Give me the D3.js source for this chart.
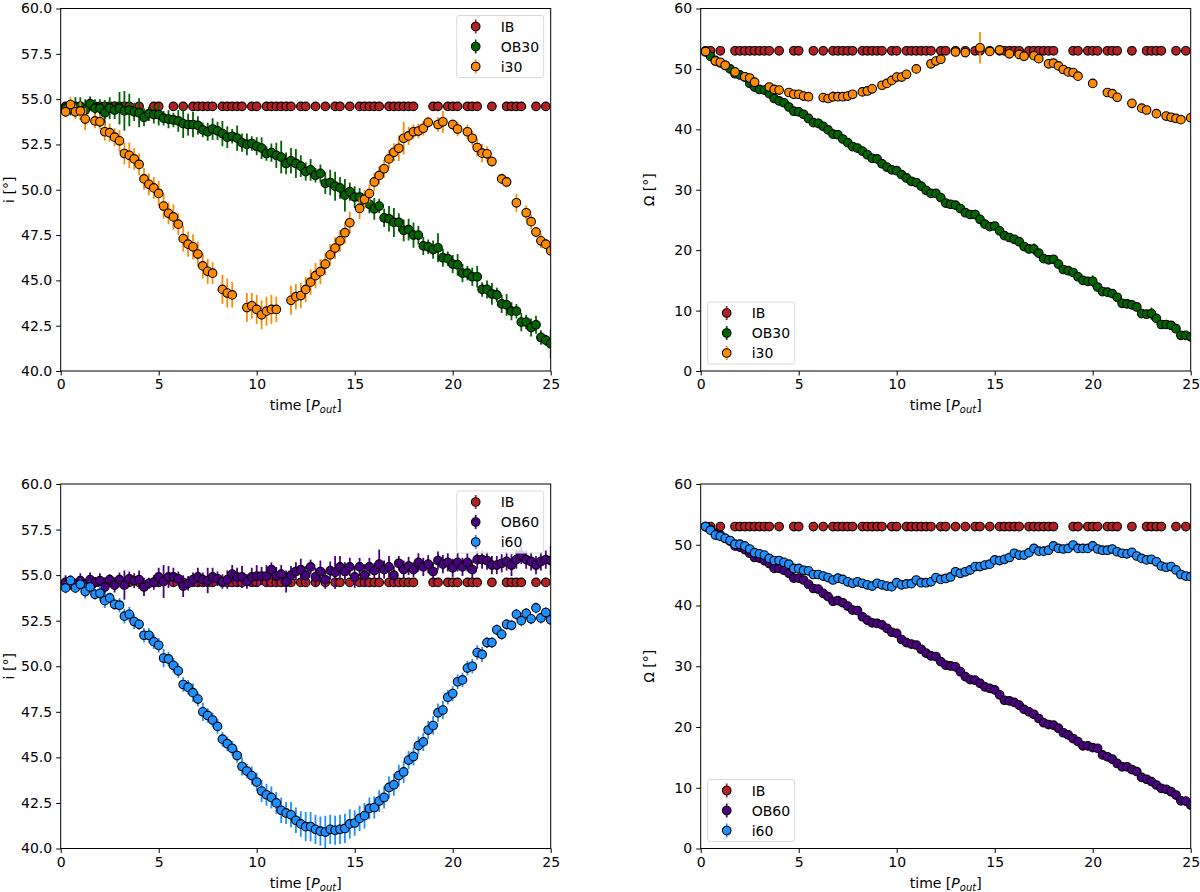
<!DOCTYPE html>
<html lang="en">
<head>
<meta charset="UTF-8">
<title>i and Omega vs time</title>
<script src="https://cdn.jsdelivr.net/npm/d3@7/dist/d3.min.js"></script>
<style>
  body { margin: 0; background: #fff; }
  svg { display: block; font-family: "DejaVu Sans", sans-serif; }
</style>
</head>
<body>
<svg id="chart" width="1200" height="892"></svg>
<script>
// ---- data ----
var ibTime = [0.25,0.5,1,1.75,2,2.25,2.5,2.75,3,3.25,3.5,4,4.75,5,5.75,6.25,6.75,7,7.25,7.5,7.75,8.25,8.5,8.75,9,9.25,9.75,10,10.5,10.75,11,11.25,11.5,11.75,12.25,12.5,13,13.5,14,14.25,14.75,15.25,15.5,15.75,16,16.25,16.75,17,17.25,17.5,17.75,18,19,19.25,19.75,20,20.25,20.75,21,21.25,22,22.75,23,23.25,23.5,24.25,24.75];
var ibIncl = [54.6,54.6,54.6,54.6,54.6,54.6,54.6,54.6,54.6,54.6,54.6,54.6,54.6,54.6,54.6,54.6,54.6,54.6,54.6,54.6,54.6,54.6,54.6,54.6,54.6,54.6,54.6,54.6,54.6,54.6,54.6,54.6,54.6,54.6,54.6,54.6,54.6,54.6,54.6,54.6,54.6,54.6,54.6,54.6,54.6,54.6,54.6,54.6,54.6,54.6,54.6,54.6,54.6,54.6,54.6,54.6,54.6,54.6,54.6,54.6,54.6,54.6,54.6,54.6,54.6,54.6,54.6];
var ibNode = [53.0,53.0,53.0,53.0,53.0,53.0,53.0,53.0,53.0,53.0,53.0,53.0,53.0,53.0,53.0,53.0,53.0,53.0,53.0,53.0,53.0,53.0,53.0,53.0,53.0,53.0,53.0,53.0,53.0,53.0,53.0,53.0,53.0,53.0,53.0,53.0,53.0,53.0,53.0,53.0,53.0,53.0,53.0,53.0,53.0,53.0,53.0,53.0,53.0,53.0,53.0,53.0,53.0,53.0,53.0,53.0,53.0,53.0,53.0,53.0,53.0,53.0,53.0,53.0,53.0,53.0,53.0];

// [time, value, error]
var ob30Incl = [[0.25,54.5,0.3],[0.5,54.5,0.4],[0.75,54.6,0.5],[1,54.6,0.5],[1.25,54.4,0.6],[1.5,54.75,0.4],[1.75,54.5,0.5],[2,54.5,0.5],[2.25,54.25,0.7],[2.5,54.5,0.6],[2.75,54.4,0.5],[3,54.5,0.9],[3.25,54.35,1.1],[3.5,54.4,0.9],[3.75,54.3,0.5],[4,54.25,0.8],[4.25,54.0,0.5],[4.5,54.2,0.4],[4.75,54.15,0.5],[5,54.15,0.6],[5.25,53.95,0.4],[5.5,53.9,0.5],[5.75,53.85,0.4],[6,53.8,0.6],[6.25,53.65,0.8],[6.5,53.6,0.6],[6.75,53.6,0.7],[7,53.55,0.5],[7.25,53.3,0.4],[7.5,53.2,0.5],[7.75,53.35,0.6],[8,53.25,0.5],[8.25,53.1,0.7],[8.5,52.9,0.6],[8.75,52.95,0.4],[9,52.85,0.7],[9.25,52.6,0.5],[9.5,52.5,0.6],[9.75,52.55,0.4],[10,52.4,0.5],[10.25,52.3,0.6],[10.5,52.0,0.4],[10.75,52.05,0.5],[11,51.9,0.7],[11.25,51.8,0.9],[11.5,51.45,0.6],[11.75,51.6,0.7],[12,51.45,0.8],[12.25,51.3,0.6],[12.5,51.0,0.5],[12.75,51.1,0.6],[13,50.8,0.4],[13.25,50.9,0.5],[13.5,50.36,0.6],[13.75,50.4,0.7],[14,50.2,0.8],[14.25,50.1,0.6],[14.5,49.7,0.9],[14.75,49.9,0.5],[15,49.6,0.6],[15.25,49.6,0.5],[15.5,49.4,0.4],[15.75,49.2,0.5],[16,48.95,0.6],[16.25,49.1,0.4],[16.5,48.45,0.5],[16.75,48.4,0.7],[17,48.2,0.8],[17.25,48.2,0.5],[17.5,47.76,0.6],[17.75,47.8,0.6],[18,47.5,0.7],[18.25,47.5,0.5],[18.5,46.9,0.5],[18.75,46.85,0.4],[19,46.7,0.5],[19.25,46.8,0.8],[19.5,46.25,0.5],[19.75,46.2,0.4],[20,45.9,0.5],[20.25,45.86,0.6],[20.5,45.4,0.5],[20.75,45.4,0.4],[21,45.2,0.5],[21.25,45.2,0.6],[21.5,44.5,0.4],[21.75,44.5,0.5],[22,44.25,0.6],[22.25,44.2,0.4],[22.5,43.7,0.5],[22.75,43.65,0.6],[23,43.3,0.5],[23.25,43.3,0.4],[23.5,42.7,0.5],[23.75,42.7,0.4],[24,42.4,0.5],[24.25,42.55,0.5],[24.5,41.85,0.4],[24.75,41.7,0.3],[25,41.5,0.8]];

var i30Incl = [[0.25,54.3,0.3],[0.5,54.7,0.4],[0.75,54.3,0.4],[1,54.35,0.5],[1.25,53.9,0.6],[1.75,53.8,0.4],[2,53.75,0.4],[2.25,53.2,0.5],[2.5,53.15,0.5],[2.75,52.9,0.5],[3,52.7,0.6],[3.25,52.0,0.6],[3.5,51.9,0.7],[3.75,51.7,0.6],[4,51.4,0.6],[4.25,50.6,0.6],[4.5,50.3,0.6],[4.75,50.1,0.6],[5,49.8,0.7],[5.25,49.1,0.7],[5.5,48.7,0.6],[5.75,48.5,0.7],[6,48.1,0.6],[6.25,47.3,0.7],[6.5,47.0,0.7],[6.75,46.85,0.7],[7,46.45,0.7],[7.25,45.8,0.7],[7.5,45.5,0.7],[7.75,45.4,0.6],[8.25,44.5,0.8],[8.5,44.3,0.8],[8.75,44.2,0.7],[9.5,43.5,0.8],[9.75,43.6,0.7],[10,43.4,0.8],[10.25,43.1,0.8],[10.5,43.3,0.8],[10.75,43.4,0.8],[11,43.4,0.7],[11.75,43.9,0.8],[12,44.1,0.7],[12.25,44.16,0.7],[12.5,44.5,0.7],[12.75,44.9,0.7],[13,45.26,0.7],[13.25,45.48,0.7],[13.5,45.9,0.6],[13.75,46.41,0.6],[14,46.78,0.6],[14.25,47.18,0.6],[14.5,47.63,0.6],[14.75,48.18,0.6],[15.25,48.97,0.6],[15.5,49.48,0.5],[15.75,49.79,0.5],[16,50.43,0.5],[16.25,50.79,0.5],[16.5,51.16,0.5],[16.75,51.7,0.5],[17,52.07,0.5],[17.25,52.29,0.7],[17.5,52.84,0.9],[17.75,52.97,0.5],[18,53.2,0.4],[18.25,53.24,0.4],[18.5,53.39,0.4],[18.75,53.72,0.3],[19.25,53.6,0.4],[19.5,53.75,0.6],[20,53.6,0.3],[20.25,53.35,0.4],[20.75,53.2,0.4],[21,52.84,0.4],[21.25,52.33,0.5],[21.5,52.02,0.5],[21.75,51.98,0.4],[22,51.56,0.3],[22.5,50.6,0.3],[22.75,50.43,0.3],[23.25,49.28,0.5],[23.75,48.73,0.4],[24,48.24,0.4],[24.25,47.67,0.3],[24.5,47.18,0.4],[24.75,47.0,0.3],[25,46.63,0.3]];

var ob30Node = [[0.25,52.8,0.3],[0.5,52.1,0.2],[0.75,51.4,0.2],[1,51.0,0.2],[1.25,50.6,0.2],[1.5,50.0,0.2],[1.75,49.2,0.2],[2,49.0,0.2],[2.25,48.65,0.3],[2.5,47.6,0.2],[2.75,47.0,0.2],[3,46.6,0.2],[3.25,46.5,0.2],[3.5,45.9,0.2],[3.75,45.1,0.3],[4,44.7,0.6],[4.25,44.4,0.2],[4.5,43.7,0.2],[4.75,43.0,0.2],[5,42.9,0.2],[5.25,42.5,0.2],[5.5,41.8,0.2],[5.75,41.1,0.3],[6,41.0,0.8],[6.25,40.5,0.2],[6.5,39.9,0.2],[6.75,39.2,0.3],[7,39.1,0.2],[7.25,38.4,0.2],[7.5,37.8,0.2],[7.75,37.15,0.2],[8,36.9,0.2],[8.25,36.4,0.2],[8.5,35.8,0.2],[8.75,35.2,0.2],[9,35.1,0.8],[9.25,34.3,0.2],[9.5,33.75,0.2],[9.75,33.3,0.2],[10,33.15,0.2],[10.25,32.5,0.2],[10.5,31.95,0.2],[10.75,31.4,0.2],[11,31.2,0.4],[11.25,30.6,0.2],[11.5,29.9,0.2],[11.75,29.4,0.2],[12,29.4,0.6],[12.25,28.7,0.2],[12.5,27.8,0.2],[12.75,27.6,0.2],[13,27.45,0.2],[13.25,26.9,0.2],[13.5,26.2,0.2],[13.75,25.9,0.2],[14,25.9,0.8],[14.25,25.1,0.2],[14.5,24.3,0.2],[14.75,23.9,0.2],[15,24.0,0.5],[15.25,23.2,0.2],[15.5,22.4,0.2],[15.75,22.1,0.2],[16,21.8,0.2],[16.25,21.4,0.2],[16.5,20.6,0.2],[16.75,20.2,0.2],[17,20.2,0.9],[17.25,19.5,0.2],[17.5,18.6,0.2],[17.75,18.4,0.2],[18,18.5,0.3],[18.25,17.7,0.2],[18.5,16.8,0.2],[18.75,16.6,0.2],[19,16.3,0.2],[19.25,15.6,0.2],[19.5,15.0,0.2],[19.75,14.85,0.2],[20,14.85,1.0],[20.25,13.9,0.2],[20.5,13.15,0.2],[20.75,13.05,0.2],[21,12.8,0.2],[21.25,12.2,0.2],[21.5,11.2,0.2],[21.75,11.1,0.2],[22,10.95,0.2],[22.25,10.6,0.2],[22.5,9.5,0.2],[22.75,9.4,0.2],[23,9.5,1.0],[23.25,8.7,0.2],[23.5,7.7,0.2],[23.75,7.7,0.2],[24,7.55,0.3],[24.25,7.0,0.2],[24.5,5.9,0.2],[24.75,5.9,0.4],[25,5.65,0.8]];

var i30Node = [[0.25,52.9,0.2],[0.75,51.3,0.3],[1,51.1,0.2],[1.25,50.6,0.2],[1.75,49.5,0.3],[2.25,48.7,0.2],[2.5,48.5,0.3],[2.75,47.8,0.3],[3.5,47.0,0.4],[3.75,46.6,0.4],[4,46.5,0.5],[4.5,46.1,0.5],[4.75,45.8,0.5],[5,45.8,0.6],[5.25,45.5,0.4],[5.5,45.4,0.4],[6.25,45.25,0.4],[6.5,45.1,0.6],[6.75,45.4,0.9],[7,45.4,0.7],[7.25,45.4,0.6],[7.5,45.5,0.8],[7.75,45.8,0.5],[8.25,46.2,0.4],[8.5,46.35,0.6],[8.75,46.7,0.7],[9.25,47.3,0.4],[9.5,47.6,0.6],[9.75,48.1,0.8],[10,48.65,0.9],[10.25,48.65,0.5],[10.5,49.1,0.5],[11,50.0,0.8],[11.75,50.85,0.7],[12,51.3,0.6],[12.25,51.6,0.3],[13,52.8,0.8],[13.5,52.7,0.3],[14.25,53.5,2.6],[14.75,52.9,0.5],[15.25,53.15,0.5],[15.75,52.5,0.3],[16.25,52.4,0.3],[16.5,52.1,0.3],[17,52.2,0.5],[17.25,51.7,0.3],[17.75,50.85,0.3],[18,50.95,0.3],[18.25,50.5,0.2],[18.5,49.9,0.2],[18.75,49.5,0.2],[19,49.4,0.3],[19.25,48.8,0.2],[20,47.6,0.2],[20.75,46.1,0.2],[21,45.9,0.2],[21.25,45.3,0.2],[22,44.3,0.2],[22.5,43.5,0.2],[22.75,43.2,0.2],[23.25,42.6,0.2],[23.75,42.2,0.4],[24,42.0,0.6],[24.25,41.8,0.4],[24.5,41.6,0.3],[25,41.9,0.3]];

var ob60Incl = [[0.25,54.6,0.4],[0.5,54.6,0.4],[0.75,54.5,0.3],[1,54.7,0.4],[1.25,54.5,0.3],[1.5,54.75,0.4],[1.75,54.6,0.3],[2,54.7,0.4],[2.25,54.35,0.5],[2.5,54.75,0.3],[2.75,54.45,0.4],[3,54.75,0.4],[3.25,54.45,0.8],[3.5,54.8,0.4],[3.75,54.7,0.4],[4,54.75,0.5],[4.25,54.35,0.5],[4.5,54.55,0.3],[4.75,54.6,0.4],[5,54.9,0.5],[5.25,54.65,0.9],[5.5,54.9,0.6],[5.75,54.9,0.5],[6,54.8,0.4],[6.25,54.4,0.6],[6.5,54.55,0.4],[6.75,54.75,0.4],[7,54.9,0.5],[7.25,54.75,0.4],[7.5,54.7,0.7],[7.75,54.9,0.5],[8,54.8,0.4],[8.25,54.65,0.4],[8.5,54.75,0.5],[8.75,55.05,0.5],[9,54.9,0.5],[9.25,54.9,0.6],[9.5,54.65,0.4],[9.75,54.9,0.5],[10,54.95,0.6],[10.25,54.95,0.5],[10.5,54.95,0.6],[10.75,55.3,0.4],[11,54.95,0.5],[11.25,55.05,0.5],[11.5,54.65,0.6],[11.75,55.0,0.5],[12,55.2,0.5],[12.25,55.3,0.6],[12.5,55.0,0.5],[12.75,55.45,0.4],[13,54.9,0.5],[13.25,55.2,0.6],[13.5,54.75,0.5],[13.75,55.25,0.5],[14,55.15,0.9],[14.25,55.45,0.6],[14.5,55.2,0.5],[14.75,55.45,0.5],[15,54.9,0.6],[15.25,55.45,0.5],[15.5,55.0,0.6],[15.75,55.45,0.5],[16,55.25,0.4],[16.25,55.6,0.8],[16.5,55.3,0.5],[16.75,55.45,0.6],[17,55.0,0.5],[17.25,55.65,0.4],[17.5,55.3,0.5],[17.75,55.5,0.5],[18,55.3,0.4],[18.25,55.7,0.5],[18.5,55.45,0.5],[18.75,55.6,0.5],[19,55.2,0.5],[19.25,55.8,0.5],[19.5,55.6,0.5],[19.75,55.7,0.5],[20,55.4,0.5],[20.25,55.7,0.5],[20.5,55.45,0.5],[20.75,55.7,0.5],[21,55.3,0.5],[21.25,55.85,0.5],[21.5,55.85,0.5],[21.75,55.8,0.5],[22,55.55,0.5],[22.25,55.55,0.5],[22.5,55.65,0.5],[22.75,55.75,0.5],[23,55.55,0.6],[23.25,55.85,0.5],[23.5,56.1,0.5],[23.75,55.85,0.5],[24,55.75,0.5],[24.25,55.55,0.5],[24.5,55.75,0.5],[24.75,55.85,0.5],[25,55.8,0.8]];

var i60Incl = [[0.25,54.3,0.3],[0.5,54.7,0.3],[0.75,54.3,0.3],[1,54.5,0.3],[1.25,54.1,0.4],[1.5,54.35,0.3],[1.75,53.95,0.3],[2,54.0,0.4],[2.25,53.6,0.4],[2.5,53.75,0.3],[2.75,53.4,0.3],[3,53.35,0.4],[3.25,52.75,0.4],[3.5,52.85,0.4],[3.75,52.45,0.4],[4,52.3,0.3],[4.25,51.7,0.4],[4.5,51.7,0.4],[4.75,51.35,0.4],[5,51.15,0.4],[5.25,50.45,0.5],[5.5,50.4,0.4],[5.75,50.05,0.4],[6,49.75,0.4],[6.25,49.0,0.4],[6.5,48.85,0.4],[6.75,48.55,0.5],[7,48.2,0.4],[7.25,47.5,0.5],[7.5,47.3,0.4],[7.75,47.05,0.4],[8,46.7,0.4],[8.25,46.0,0.4],[8.5,45.75,0.4],[8.75,45.5,0.4],[9,45.1,0.4],[9.25,44.5,0.5],[9.5,44.25,0.4],[9.75,44.0,0.5],[10,43.65,0.5],[10.25,43.15,0.6],[10.5,42.95,0.6],[10.75,42.8,0.6],[11,42.5,0.6],[11.25,42.1,0.7],[11.5,41.95,0.6],[11.75,41.85,0.7],[12,41.55,0.7],[12.25,41.35,0.7],[12.5,41.2,0.8],[12.75,41.2,0.8],[13,41.05,0.8],[13.25,40.95,0.8],[13.5,40.9,0.9],[13.75,41.05,0.8],[14,41.0,0.8],[14.25,41.05,0.8],[14.5,41.1,0.8],[14.75,41.35,0.8],[15,41.4,0.7],[15.25,41.65,0.7],[15.5,41.8,0.7],[15.75,42.2,0.6],[16,42.25,0.6],[16.25,42.6,0.6],[16.5,42.8,0.6],[16.75,43.35,0.6],[17,43.5,0.6],[17.25,44.0,0.6],[17.5,44.2,0.6],[17.75,44.85,0.5],[18,45.05,0.5],[18.25,45.65,0.5],[18.5,45.85,0.5],[18.75,46.5,0.5],[19,46.75,0.5],[19.25,47.45,0.5],[19.5,47.6,0.5],[19.75,48.3,0.4],[20,48.5,0.4],[20.25,49.15,0.4],[20.5,49.25,0.4],[20.75,49.9,0.4],[21,50.0,0.4],[21.25,50.75,0.4],[21.5,50.65,0.4],[21.75,51.3,0.3],[22,51.3,0.3],[22.25,52.0,0.3],[22.5,51.75,0.3],[22.75,52.3,0.3],[23,52.25,0.3],[23.25,52.85,0.3],[23.5,52.5,0.3],[23.75,52.9,0.3],[24,52.6,0.3],[24.25,53.2,0.3],[24.5,52.65,0.3],[24.75,52.95,0.3],[25,52.55,0.3]];

var ob60Node = [[0.25,53.0,0.2],[0.5,52.5,0.2],[0.75,51.9,0.2],[1,51.6,0.2],[1.25,51.05,0.2],[1.5,50.6,0.2],[1.75,49.8,0.2],[2,49.6,0.2],[2.25,49.2,0.2],[2.5,48.6,0.2],[2.75,47.9,0.2],[3,47.8,0.2],[3.25,47.4,0.2],[3.5,46.9,0.2],[3.75,46.1,0.2],[4,46.1,0.2],[4.25,45.8,0.2],[4.5,45.3,0.2],[4.75,44.5,0.2],[5,44.5,0.2],[5.25,44.2,0.2],[5.5,43.5,0.2],[5.75,42.8,0.2],[6,42.7,0.2],[6.25,42.0,0.2],[6.5,41.45,0.2],[6.75,40.7,0.2],[7,40.8,0.2],[7.25,40.45,0.2],[7.5,39.9,0.2],[7.75,39.25,0.2],[8,39.15,0.3],[8.25,38.15,0.2],[8.5,37.6,0.2],[8.75,37.15,0.2],[9,37.05,0.2],[9.25,36.8,0.2],[9.5,36.25,0.2],[9.75,35.6,0.3],[10,35.4,0.2],[10.25,34.4,0.2],[10.5,33.9,0.2],[10.75,33.65,0.2],[11,33.5,0.2],[11.25,32.8,0.3],[11.5,32.15,0.2],[11.75,31.7,0.2],[12,31.6,0.2],[12.25,30.75,0.2],[12.5,30.2,0.2],[12.75,30.05,0.2],[13,29.9,0.2],[13.25,29.1,0.2],[13.5,28.3,0.2],[13.75,27.8,0.2],[14,27.7,0.2],[14.25,27.2,0.2],[14.5,26.6,0.2],[14.75,26.35,0.2],[15,26.1,0.2],[15.25,25.3,0.2],[15.5,24.4,0.2],[15.75,24.3,0.2],[16,24.05,0.2],[16.25,23.6,0.2],[16.5,22.9,0.2],[16.75,22.5,0.2],[17,22.1,0.2],[17.25,21.4,0.2],[17.5,20.7,0.2],[17.75,20.4,0.2],[18,20.3,0.2],[18.25,19.8,0.2],[18.5,19.05,0.2],[18.75,18.7,0.2],[19,18.1,0.2],[19.25,17.6,0.2],[19.5,16.9,0.2],[19.75,16.9,0.2],[20,16.6,0.2],[20.25,16.5,0.2],[20.5,15.4,0.2],[20.75,15.1,0.3],[21,14.7,0.2],[21.25,14.0,0.2],[21.5,13.45,0.2],[21.75,13.45,0.2],[22,13.0,0.2],[22.25,12.65,0.2],[22.5,11.7,0.2],[22.75,11.4,0.2],[23,11.0,0.2],[23.25,10.45,0.2],[23.5,9.9,0.2],[23.75,9.75,0.2],[24,9.35,0.2],[24.25,8.8,0.2],[24.5,7.85,0.2],[24.75,7.8,0.2],[25,7.15,0.2]];

var i60Node = [[0.25,53.0,0.3],[0.5,52.4,0.3],[0.75,51.6,0.3],[1,51.4,0.3],[1.25,51.05,0.3],[1.5,50.7,0.3],[1.75,50.1,0.3],[2,50.1,0.3],[2.25,49.8,0.3],[2.5,49.3,0.3],[2.75,48.7,0.3],[3,48.5,0.3],[3.25,48.3,0.3],[3.5,47.75,0.3],[3.75,47.4,0.4],[4,47.4,0.4],[4.25,47.1,0.4],[4.5,46.8,0.4],[4.75,46.1,0.4],[5,46.1,0.4],[5.25,45.8,0.4],[5.5,45.7,0.4],[5.75,45.1,0.5],[6,45.1,0.5],[6.25,44.85,0.5],[6.5,44.6,0.5],[6.75,44.2,0.5],[7,44.5,0.5],[7.25,44.3,0.5],[7.5,43.9,0.6],[7.75,43.65,0.7],[8,43.9,0.6],[8.25,43.65,0.5],[8.5,43.4,0.6],[8.75,43.2,0.7],[9,43.65,0.6],[9.25,43.4,0.6],[9.5,43.2,0.7],[9.75,43.1,0.8],[10,43.75,0.6],[10.25,43.4,0.6],[10.5,43.55,0.6],[10.75,43.6,0.6],[11,44.2,0.6],[11.25,43.75,0.6],[11.5,43.75,0.6],[11.75,43.9,0.7],[12,44.6,0.6],[12.25,44.3,0.6],[12.5,44.45,0.6],[12.75,44.7,0.6],[13,45.55,0.6],[13.25,45.3,0.6],[13.5,45.55,0.6],[13.75,45.85,0.5],[14,46.4,0.5],[14.25,46.4,0.5],[14.5,46.65,0.5],[14.75,46.8,0.5],[15,47.5,0.5],[15.25,47.4,0.5],[15.5,47.6,0.5],[15.75,47.9,0.5],[16,48.6,0.5],[16.25,48.3,0.5],[16.5,48.3,0.5],[16.75,48.7,0.5],[17,49.4,0.5],[17.25,48.95,0.4],[17.5,48.95,0.4],[17.75,49.1,0.4],[18,49.8,0.5],[18.25,49.4,0.4],[18.5,49.3,0.4],[18.75,49.4,0.4],[19,49.95,0.5],[19.25,49.4,0.4],[19.5,49.4,0.4],[19.75,49.4,0.4],[20,49.8,0.4],[20.25,49.3,0.4],[20.5,49.1,0.4],[20.75,49.1,0.4],[21,49.3,0.4],[21.25,48.85,0.4],[21.5,48.6,0.4],[21.75,48.5,0.4],[22,48.75,0.4],[22.25,48.15,0.4],[22.5,47.75,0.4],[22.75,47.5,0.4],[23,47.6,0.4],[23.25,47.2,0.4],[23.5,46.5,0.4],[23.75,46.3,0.4],[24,46.4,0.4],[24.25,45.85,0.4],[24.5,45.1,0.4],[24.75,44.85,0.4],[25,44.75,0.4]];

var timeTicks = [0, 5, 10, 15, 20, 25];
var inclTicks = [40, 42.5, 45, 47.5, 50, 52.5, 55, 57.5, 60];
var nodeTicks = [0, 10, 20, 30, 40, 50, 60];

var colors = { IB: "#b22222", OB30: "#006400", i30: "#ff8c00", OB60: "#4b0082", i60: "#1e90ff" };

// ---- layout ----
var svg = d3.select("#chart");
var plotW = 490;
var fontSize = 14;
var markR = 4.3;

function ib(values) {
	return ibTime.map(function(t, k) { return [t, values[k], 0]; });
}

var panels = [
	{ left: 60.7, top: 8.5, h: 362.5, domain: [40, 60], ticks: inclTicks, fmt: d3.format(".1f"), label: "i [°]", legend: "upper right",
	  series: [{ name: "IB", data: ib(ibIncl) }, { name: "OB30", data: ob30Incl }, { name: "i30", data: i30Incl }] },
	{ left: 700.7, top: 8.5, h: 362.5, domain: [0, 60], ticks: nodeTicks, fmt: d3.format("d"), label: "Ω [°]", legend: "lower left",
	  series: [{ name: "IB", data: ib(ibNode) }, { name: "OB30", data: ob30Node }, { name: "i30", data: i30Node }] },
	{ left: 60.7, top: 484, h: 364.5, domain: [40, 60], ticks: inclTicks, fmt: d3.format(".1f"), label: "i [°]", legend: "upper right",
	  series: [{ name: "IB", data: ib(ibIncl) }, { name: "OB60", data: ob60Incl }, { name: "i60", data: i60Incl }] },
	{ left: 700.7, top: 484, h: 364.5, domain: [0, 60], ticks: nodeTicks, fmt: d3.format("d"), label: "Ω [°]", legend: "lower left",
	  series: [{ name: "IB", data: ib(ibNode) }, { name: "OB60", data: ob60Node }, { name: "i60", data: i60Node }] }
];

panels.forEach(function(p, pi) {
	var plotH = p.h;
	var g = svg.append("g").attr("transform", "translate(" + p.left + "," + p.top + ")");
	var x = d3.scaleLinear().domain([0, 25]).range([0, plotW]);
	var y = d3.scaleLinear().domain(p.domain).range([plotH, 0]);

	g.append("clipPath").attr("id", "clip" + pi)
		.append("rect").attr("width", plotW).attr("height", plotH);
	var plot = g.append("g").attr("clip-path", "url(#clip" + pi + ")");

	// error bars first, then markers, series by series
	p.series.forEach(function(s) {
		var sg = plot.append("g");
		sg.selectAll("line")
			.data(s.data.filter(function(d) { return d[2] > 0; }))
			.enter().append("line")
			.attr("x1", function(d) { return x(d[0]); })
			.attr("x2", function(d) { return x(d[0]); })
			.attr("y1", function(d) { return y(d[1] - d[2]); })
			.attr("y2", function(d) { return y(d[1] + d[2]); })
			.attr("stroke", colors[s.name])
			.attr("stroke-width", 1.8);
		sg.selectAll("circle")
			.data(s.data)
			.enter().append("circle")
			.attr("cx", function(d) { return x(d[0]); })
			.attr("cy", function(d) { return y(d[1]); })
			.attr("r", markR)
			.attr("fill", colors[s.name])
			.attr("stroke", "#000")
			.attr("stroke-width", 1.1);
	});

	// axes
	var xAxis = g.append("g").attr("transform", "translate(0," + plotH + ")")
		.call(d3.axisBottom(x).tickValues(timeTicks).tickSize(4.5).tickPadding(4));
	var yAxis = g.append("g")
		.call(d3.axisLeft(y).tickValues(p.ticks).tickFormat(p.fmt).tickSize(4.5).tickPadding(4));
	[xAxis, yAxis].forEach(function(a) {
		a.select(".domain").remove();
		a.selectAll(".tick line").attr("stroke", "#000").attr("stroke-width", 1);
		a.selectAll(".tick text").attr("fill", "#000")
			.style("font-size", fontSize + "px").style("font-family", "DejaVu Sans, sans-serif");
	});

	g.append("rect").attr("width", plotW).attr("height", plotH)
		.attr("fill", "none").attr("stroke", "#000").attr("stroke-width", 1);

	// axis labels
	var xl = g.append("text")
		.attr("x", plotW / 2).attr("y", plotH + 39)
		.attr("text-anchor", "middle")
		.style("font-size", fontSize + "px");
	xl.append("tspan").text("time [");
	xl.append("tspan").attr("font-style", "italic").text("P");
	xl.append("tspan").attr("font-style", "italic").attr("font-size", "10px").attr("dy", 3).text("out");
	xl.append("tspan").attr("dy", -3).text("]");

	g.append("text")
		.attr("transform", "translate(-47," + (plotH / 2) + ") rotate(-90)")
		.attr("text-anchor", "middle")
		.style("font-size", fontSize + "px")
		.text(p.label);

	// legend
	var lw = 87, lh = 62;
	var lx = p.legend === "upper right" ? plotW - 7 - lw : 7;
	var ly = p.legend === "upper right" ? 7 : plotH - 7 - lh;
	var lg = g.append("g").attr("transform", "translate(" + lx + "," + ly + ")");
	lg.append("rect").attr("width", lw).attr("height", lh).attr("rx", 2.5)
		.attr("fill", "#fff").attr("fill-opacity", 0.8)
		.attr("stroke", "#d9d9d9").attr("stroke-width", 1);
	var rows = lg.selectAll("g.row").data(p.series).enter().append("g")
		.attr("class", "row")
		.attr("transform", function(d, i) { return "translate(0," + (11 + i * 20) + ")"; });
	rows.append("line").attr("x1", 19).attr("x2", 19).attr("y1", -7).attr("y2", 7)
		.attr("stroke", function(d) { return colors[d.name]; }).attr("stroke-width", 1.8);
	rows.append("circle").attr("cx", 19).attr("cy", 0).attr("r", markR)
		.attr("fill", function(d) { return colors[d.name]; })
		.attr("stroke", "#000").attr("stroke-width", 1.1);
	rows.append("text").attr("x", 44).attr("y", 0).attr("dy", "0.36em")
		.style("font-size", fontSize + "px")
		.text(function(d) { return d.name; });
});
</script>
</body>
</html>
